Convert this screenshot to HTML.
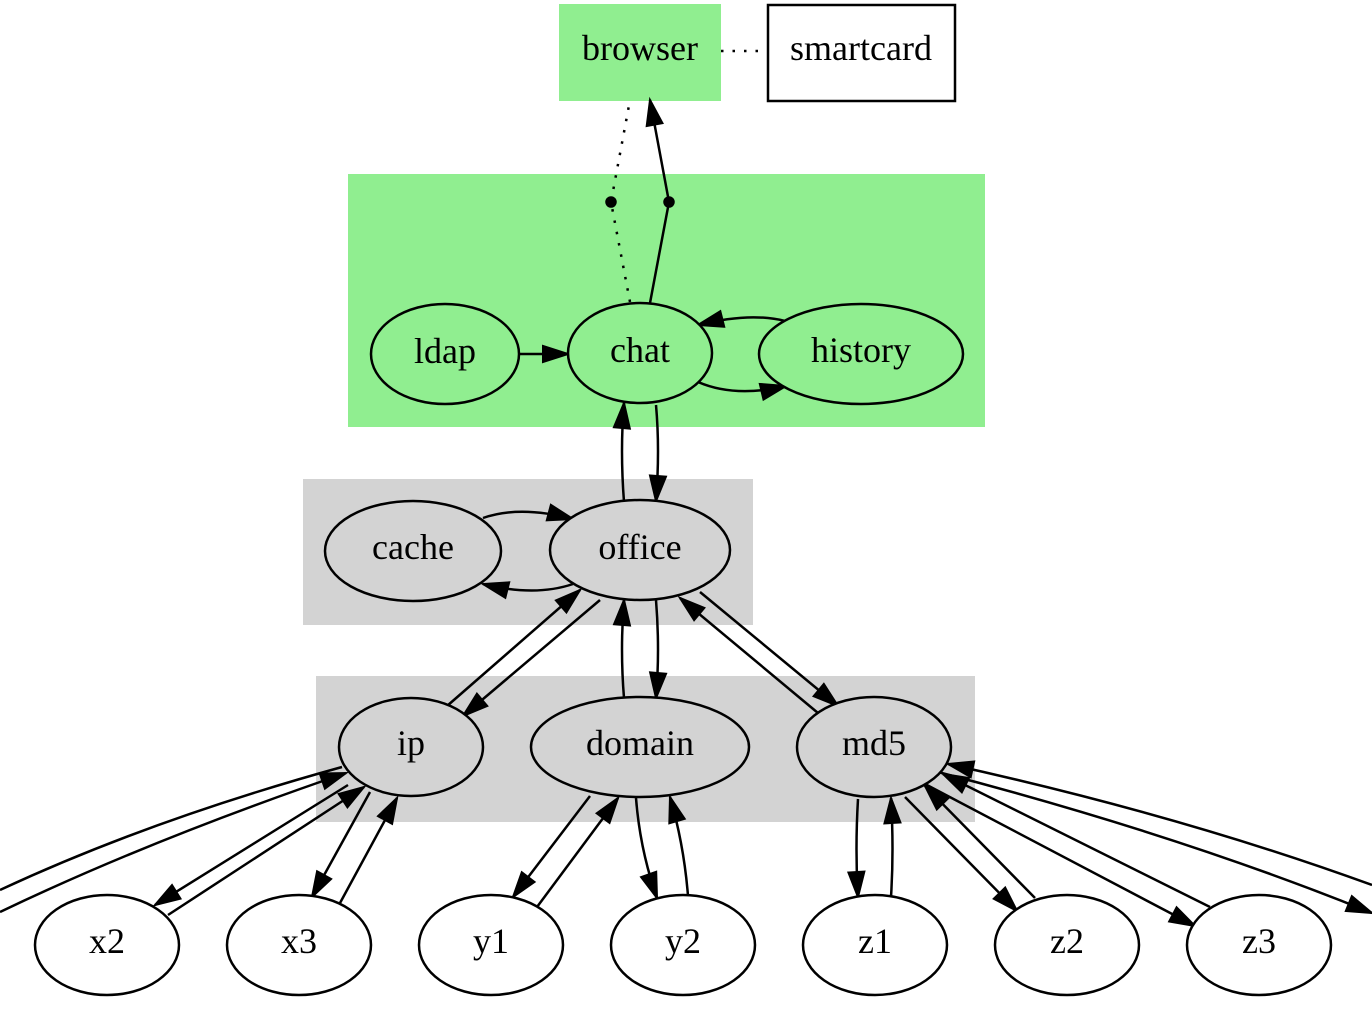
<!DOCTYPE html>
<html><head><meta charset="utf-8"><style>
html,body{margin:0;padding:0;background:#fff;}
svg{display:block;}
text{font-family:"Liberation Serif",serif;font-size:36px;fill:#000;text-anchor:middle;dominant-baseline:central;}
</style></head><body>
<svg width="1372" height="1016" viewBox="0 0 1372 1016" xmlns="http://www.w3.org/2000/svg">
<defs>
<marker id="a" markerUnits="userSpaceOnUse" markerWidth="34" markerHeight="34" refX="28" refY="14" orient="auto">
<path d="M3,6 L28,14 L3,22 Z" fill="#000" stroke="#000" stroke-width="2"/>
</marker>
</defs>
<rect x="348" y="174" width="637" height="253" fill="#90ee90"/>
<rect x="303" y="479" width="450" height="146" fill="#d3d3d3"/>
<rect x="316" y="676" width="659" height="146" fill="#d3d3d3"/>
<rect x="559" y="4" width="162" height="97" fill="#90ee90"/>
<text x="640" y="48">browser</text>
<rect x="768" y="5" width="187" height="96" fill="#fff" stroke="#000" stroke-width="2.5"/>
<text x="861" y="48">smartcard</text>
<line x1="721" y1="51" x2="768" y2="51" stroke="#000" stroke-width="2.5" stroke-dasharray="2.5,9"/>

<g fill="none" stroke="#000" stroke-width="2.5">
<path d="M630,302 L611,202 L630,100" stroke-dasharray="2.5,9"/>
<path d="M650,303 L669,202 L650,100" marker-end="url(#a)"/>
<path d="M519,354 L568,354" marker-end="url(#a)"/>
<path d="M698,382 Q735,398 786,386" marker-end="url(#a)"/>
<path d="M785,321 Q750,312 698,325" marker-end="url(#a)"/>
<path d="M624,502 Q620,450 624,403" marker-end="url(#a)"/>
<path d="M656,405 Q660,450 656,501" marker-end="url(#a)"/>
<path d="M483,518 Q520,505 573,519" marker-end="url(#a)"/>
<path d="M573,584 Q535,597 483,584" marker-end="url(#a)"/>
<path d="M447,706 L580,590" marker-end="url(#a)"/>
<path d="M600,600 L463,716" marker-end="url(#a)"/>
<path d="M624,698 Q620,650 624,600" marker-end="url(#a)"/>
<path d="M656,600 Q660,650 656,698" marker-end="url(#a)"/>
<path d="M700,592 L838,706" marker-end="url(#a)"/>
<path d="M818,713 L680,598" marker-end="url(#a)"/>
<path d="M342,767 Q150,820 0,890"/>
<path d="M0,912 Q150,840 346,773" marker-end="url(#a)"/>
<path d="M348,785 L155,905" marker-end="url(#a)"/>
<path d="M168,915 L364,787" marker-end="url(#a)"/>
<path d="M370,792 L312,897" marker-end="url(#a)"/>
<path d="M340,903 L397,798" marker-end="url(#a)"/>
<path d="M590,796 L513,897" marker-end="url(#a)"/>
<path d="M537,907 L618,798" marker-end="url(#a)"/>
<path d="M636,798 Q640,850 657,898" marker-end="url(#a)"/>
<path d="M688,896 Q684,845 670,797" marker-end="url(#a)"/>
<path d="M858,799 Q855,850 858,897" marker-end="url(#a)"/>
<path d="M891,897 Q894,850 891,798" marker-end="url(#a)"/>
<path d="M905,797 L1017,911" marker-end="url(#a)"/>
<path d="M1035,898 L925,786" marker-end="url(#a)"/>
<path d="M925,784 L1195,926" marker-end="url(#a)"/>
<path d="M1210,907 L943,774" marker-end="url(#a)"/>
<path d="M938,772 Q1180,835 1372,913" marker-end="url(#a)"/>
<path d="M1372,885 Q1180,815 948,764" marker-end="url(#a)"/>
</g>

<g stroke="#000" stroke-width="2.5">
<circle cx="611" cy="202" r="4.5" fill="#000"/>
<circle cx="669" cy="202" r="4.5" fill="#000"/>
<ellipse cx="445" cy="354" rx="74" ry="50" fill="#90ee90"/>
<ellipse cx="640" cy="353" rx="72" ry="50" fill="#90ee90"/>
<ellipse cx="861" cy="354" rx="102" ry="50" fill="#90ee90"/>
<ellipse cx="413" cy="551" rx="88" ry="50" fill="#d3d3d3"/>
<ellipse cx="640" cy="550" rx="90" ry="50" fill="#d3d3d3"/>
<ellipse cx="411" cy="747" rx="72" ry="49" fill="#d3d3d3"/>
<ellipse cx="640" cy="747" rx="109" ry="50" fill="#d3d3d3"/>
<ellipse cx="874" cy="747" rx="77" ry="50" fill="#d3d3d3"/>
<ellipse cx="107" cy="945" rx="72" ry="50" fill="#fff"/>
<ellipse cx="299" cy="945" rx="72" ry="50" fill="#fff"/>
<ellipse cx="491" cy="945" rx="72" ry="50" fill="#fff"/>
<ellipse cx="683" cy="945" rx="72" ry="50" fill="#fff"/>
<ellipse cx="875" cy="945" rx="72" ry="50" fill="#fff"/>
<ellipse cx="1067" cy="945" rx="72" ry="50" fill="#fff"/>
<ellipse cx="1259" cy="945" rx="72" ry="50" fill="#fff"/>
</g>
<text x="445" y="351">ldap</text>
<text x="640" y="350">chat</text>
<text x="861" y="350">history</text>
<text x="413" y="547">cache</text>
<text x="640" y="547">office</text>
<text x="411" y="743">ip</text>
<text x="640" y="743">domain</text>
<text x="874" y="743">md5</text>
<text x="107" y="941">x2</text>
<text x="299" y="941">x3</text>
<text x="491" y="941">y1</text>
<text x="683" y="941">y2</text>
<text x="875" y="941">z1</text>
<text x="1067" y="941">z2</text>
<text x="1259" y="941">z3</text>
</svg>
</body></html>
